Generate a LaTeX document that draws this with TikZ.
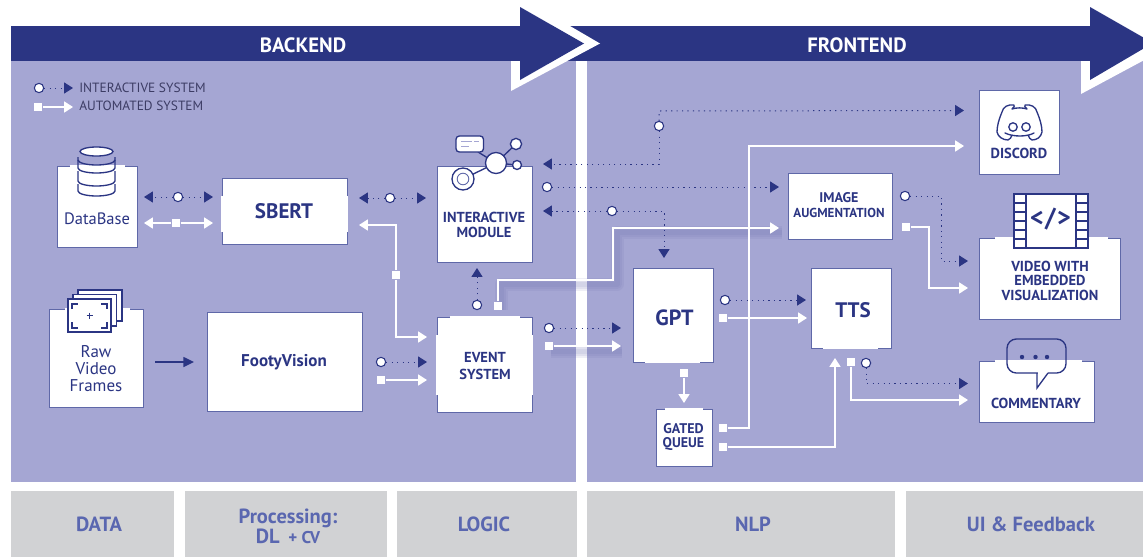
\documentclass[tikz,border=0pt]{standalone}
\usepackage{fontspec}
\setmainfont{PT Sans}
\usetikzlibrary{arrows.meta}
\definecolor{panel}{HTML}{A5A6D3}
\definecolor{navy}{HTML}{2B3583}
\definecolor{edge}{HTML}{5F68A8}
\definecolor{graybar}{HTML}{D1D2D4}
\definecolor{graytext}{HTML}{5A67B0}
\definecolor{legendtext}{HTML}{3C3C64}
\definecolor{shadowc}{HTML}{6A6CAE}
% font size in reference pixels; second argument is the line distance in pixels
\newcommand\pxs[2]{\fontsize{\dimexpr#1pt*3/4\relax}{\dimexpr#2pt*3/4\relax}\selectfont}
% box: name, x0, y0, x1, y1
\newcommand\bx[5]{\pgfmathsetmacro\wv{(#4-#2)*0.75}\pgfmathsetmacro\hv{(#5-#3)*0.75}%
  \node[boxnode,minimum width=\wv pt,minimum height=\hv pt] (#1) at ({(#2+#4)/2},{(#3+#5)/2}) {};}
\newcommand\gbar[3]{\pgfmathsetmacro\wv{(#3-#2)*0.75}%
  \node[barnode,minimum width=\wv pt] (#1) at ({(#2+#3)/2},524) {};}
\tikzset{
  x=0.75pt,y=-0.75pt,
  boxnode/.style={draw=edge,fill=white,line width=0.75pt,inner sep=0pt},
  lbl/.style={inner sep=0pt,align=center,text=navy},
  barlbl/.style={inner sep=0pt,align=center,text=graytext,font={\bfseries\pxs{20.5}{18}}},
  barnode/.style={fill=graybar,minimum height=49.5pt,inner sep=0pt},
  circ/.style={circle,draw=navy,fill=white,line width=0.8pt,minimum size=7pt,inner sep=0pt},
  sqr/.style={rectangle,fill=white,minimum size=6.4pt,inner sep=0pt},
  dotted line/.style={draw=navy,line width=0.75pt,dash pattern=on 0.9pt off 3.2pt},
  dotarrow/.style={dotted line,-{Triangle[length=6.6pt,width=8.2pt,fill=navy]}},
  whitearrow/.style={draw=white,line width=1.1pt,-{Triangle[length=6.6pt,width=8.2pt,fill=white]}},
  icon/.style={draw=navy,line width=1pt},
  gap/.style={draw=white,line width=1pt},
}
\begin{document}
\begin{tikzpicture}
\useasboundingbox (0,0) rectangle (1143,557);
\clip (0,0) rectangle (1143,557);
% panels
\fill[panel] (11,60) rectangle (576,482);
\fill[panel] (587,60) rectangle (1143,482);
% gray category bars
\gbar{barData}{11}{174}
\gbar{barProc}{185}{387}
\gbar{barLogic}{397}{577}
\gbar{barNlp}{587}{895}
\gbar{barUi}{906}{1143}
\node[barlbl] (lblData) at (99,524) {DATA};
\node[barlbl] (lblProc) at (288,526) {Processing:\\DL\, \raisebox{0pt}{\pxs{17}{18}+ CV}};
\node[barlbl] (lblLogic) at (484,524) {LOGIC};
\node[barlbl] (lblNlp) at (753,524) {NLP};
\node[barlbl] (lblUi) at (1031,524) {UI \& Feedback};
% header band and arrow heads
\fill[navy] (11,26) rectangle (1090,61);
\fill[white] (511,61) -- (511,91) -- (600,43.5) -- (570,26) -- (553,26) -- (553,61) -- cycle;
\fill[navy] (520,7) -- (584,43.5) -- (520,80) -- cycle;
\fill[white] (1081,61) -- (1081,94) -- (1163,50) -- (1143,40) -- (1090,61) -- cycle;
\fill[navy] (1090,7) -- (1153,43) -- (1090,80) -- cycle;
\node[lbl,text=white,font={\bfseries\pxs{20.7}{22}}] (backend) at (303,45) {BACKEND};
\node[lbl,text=white,font={\bfseries\pxs{20.7}{22}}] (frontend) at (857,45) {FRONTEND};
% soft shadows under some automated links
\foreach \w in {13,9,5}{
  \draw[shadowc,opacity=0.11,line width=\w*0.75pt,line join=round]
    (501,310) -- (501,284) -- (617,284) -- (617,232) -- (782,232);
  \draw[shadowc,opacity=0.11,line width=\w*0.75pt] (551,351) -- (622,351);
}
% boxes
\bx{db}{57}{166}{137}{247}
\bx{sbert}{222}{178}{347}{244}
\bx{raw}{49}{309}{143}{407}
\bx{footy}{207}{312}{362}{411}
\bx{inter}{437}{166}{532}{262}
\bx{event}{437}{317}{532}{412}
\bx{imgaug}{788}{173}{892}{239}
\bx{discord}{979}{90}{1059}{174}
\bx{video}{979}{238}{1120}{319}
\bx{gpt}{633}{268}{713}{362}
\bx{tts}{811}{268}{891}{348}
\bx{gated}{656}{409}{712}{466}
\bx{comment}{979}{361}{1094}{422}
% white strips that interrupt the box outlines
\draw[gap] (70,166) -- (125,166);
\draw[gap] (65,309) -- (130,309);
\draw[gap] (450,317) -- (520,317);
\draw[gap] (222,196) -- (222,232); \draw[gap] (347,196) -- (347,232);
\draw[gap] (437,335) -- (437,395); \draw[gap] (532,335) -- (532,395);
\draw[gap] (645,362) -- (700,362);
\draw[gap] (823,348) -- (878,348);
\draw[gap] (665,409) -- (703,409);
\draw[gap] (995,238) -- (1108,238);
\draw[gap] (995,361) -- (1082,361);
% box labels
\node[lbl,font={\pxs{16.5}{17}}] (dbLbl) at (97,219) {DataBase};
\node[lbl,font={\pxs{17}{17}}] (rawLbl) at (96,369) {Raw\\Video\\Frames};
\node[lbl,font={\bfseries\pxs{21}{22}}] (sbertLbl) at (284,211) {SBERT};
\node[lbl,font={\bfseries\pxs{17}{18}}] (footyLbl) at (284,362) {FootyVision};
\node[lbl,font={\bfseries\pxs{14.5}{15}}] (interLbl) at (484,225) {INTERACTIVE\\MODULE};
\node[lbl,font={\bfseries\pxs{14.5}{17}}] (eventLbl) at (485,366) {EVENT\\SYSTEM};
\node[lbl,font={\bfseries\pxs{13}{15}}] (augLbl) at (839,205.5) {\pxs{14}{15}IMAGE\\AUGMENTATION};
\node[lbl,font={\bfseries\pxs{14.5}{15}}] (discLbl) at (1019,153) {DISCORD};
\node[lbl,font={\bfseries\pxs{14.5}{14.5}}] (videoLbl) at (1050,280.5) {VIDEO WITH\\EMBEDDED\\VISUALIZATION};
\node[lbl,font={\bfseries\pxs{22}{24}}] (gptLbl) at (674.5,318) {GPT};
\node[lbl,font={\bfseries\pxs{21}{24}}] (ttsLbl) at (853,310) {TTS};
\node[lbl,font={\bfseries\pxs{14}{14}}] (gatedLbl) at (683.5,437) {GATED\\QUEUE};
\node[lbl,font={\bfseries\pxs{14.5}{15}}] (commLbl) at (1036,403) {COMMENTARY};
% database icon
\draw[icon] (78,160) -- (78,168) arc[start angle=180,end angle=360,x radius=18.5,y radius=-5] -- (115,160);
\draw[icon] (78,171) -- (78,181) arc[start angle=180,end angle=360,x radius=18.5,y radius=-5] -- (115,171);
\draw[icon] (78,184) -- (78,191) arc[start angle=180,end angle=360,x radius=18.5,y radius=-5] -- (115,184);
\draw[icon] (78,157) -- (78,160) arc[start angle=180,end angle=360,x radius=18.5,y radius=-5] -- (115,157);
\draw[icon,fill=white] (96.5,151.5) ellipse[x radius=16.5,y radius=4.5];
% frames icon
\draw[icon,fill=white] (78,290) rectangle (122,321);
\draw[icon,fill=white] (73,294.5) rectangle (116.5,326);
\draw[icon,fill=white] (68,299) rectangle (111,332);
\draw[icon,line width=0.9pt] (72,309) -- (72,304) -- (78,304)
  (101,304) -- (107,304) -- (107,309)
  (107,322) -- (107,328) -- (101,328)
  (78,328) -- (72,328) -- (72,322)
  (86.5,315.5) -- (92.5,315.5) (89.5,312.5) -- (89.5,318.5);
% network icon
\draw[icon] (478,152) -- (496,163) -- (516,144) (496,163) -- (517,165) (496,163) -- (463,179);
\draw[icon,fill=white,rounded corners=2.5pt] (456,136) rectangle (483.5,152);
\draw[panel,line width=1.1pt] (461,141.5) -- (472,141.5) (474,141.5) -- (479,141.5) (461,146.5) -- (469,146.5);
\draw[icon,fill=white] (496,163) circle[radius=10.5];
\draw[icon,fill=white] (516,144) circle[radius=5.6];
\draw[icon,fill=white] (517,165) circle[radius=4.5];
\draw[icon,fill=white] (463,179) circle[radius=11];
\draw[edge,line width=0.7pt,fill=white] (463,179) circle[radius=5.8];
% discord icon
\draw[icon,line cap=round,line join=round]
  (1014,105) .. controls (1008,104) and (1003,107) .. (1002,112)
  .. controls (999,119) and (997,126) .. (997,132)
  .. controls (998,137) and (1003,140) .. (1008,140)
  .. controls (1010,140) and (1011,137) .. (1012,135)
  (1005,133) .. controls (1013,137) and (1027,137) .. (1034,133)
  (1028,135) .. controls (1029,137) and (1030,140) .. (1032,140)
  .. controls (1037,140) and (1041,137) .. (1042,132)
  .. controls (1042,126) and (1040,119) .. (1037,112)
  .. controls (1036,107) and (1031,104) .. (1025,105)
  .. controls (1024,106) and (1025,107) .. (1027,109)
  .. controls (1022,107.5) and (1017,107.5) .. (1012,109)
  .. controls (1014,107) and (1015,106) .. (1014,105);
\draw[icon] (1013,127) circle[radius=4.2];
\draw[icon] (1026,127) circle[radius=4.2];
% film icon
\draw[icon,line width=1.2pt,fill=white] (1014,194) rectangle (1088,248);
\draw[icon,line width=1.2pt] (1026,194) -- (1026,248) (1076,194) -- (1076,248);
\foreach \yy in {203,212,221,230,239}{
  \draw[icon,line width=1.2pt] (1014,\yy) -- (1026,\yy) (1076,\yy) -- (1088,\yy);
}
\node[lbl,font={\bfseries\pxs{26}{28}}] (code) at (1050.5,219.5) {\char`\<\kern1pt/\kern1pt\char`\>};
% speech bubble icon
\draw[icon,line join=round,rounded corners=7pt]
  (1007,339) rectangle (1066,373);
\draw[white,line width=1.4pt] (1037.6,373) -- (1047.5,373);
\draw[icon,line join=miter] (1037,373) -- (1037,388) -- (1048,373);
\fill[navy] (1022,357) circle[radius=2.2] (1035.5,357) circle[radius=2.2] (1047,357) circle[radius=2.2];
% legend
\node[circ] (legC) at (39,88) {};
\coordinate (legCt) at (73,88);
\node[sqr] (legS) at (38,107) {};
\coordinate (legSt) at (73,107);
\node[inner sep=0pt,anchor=west,text=legendtext,font={\pxs{13.4}{14}}] (legT1) at (79,88) {INTERACTIVE SYSTEM};
\node[inner sep=0pt,anchor=west,text=legendtext,font={\pxs{13.4}{14}}] (legT2) at (79,105.5) {AUTOMATED SYSTEM};
% link end markers
\node[circ] (c1) at (178,197) {};
\node[sqr] (s1) at (176,223) {};
\node[circ] (c2) at (390,198) {};
\node[sqr] (s2) at (396,275) {};
\node[circ] (c3) at (381,362) {};
\node[sqr] (s3) at (381,380) {};
\node[circ] (c4) at (477,305) {};
\node[sqr] (s4) at (498,306) {};
\node[circ] (c5) at (549,328) {};
\node[sqr] (s5) at (549,346) {};
\node[circ] (c6) at (659,126) {};
\node[circ] (c7) at (547,187) {};
\node[circ] (c8) at (612,211) {};
\node[sqr] (s6) at (723,428) {};
\node[sqr] (s7) at (723,447) {};
\node[circ] (c9) at (725,300) {};
\node[sqr] (s8) at (723,318) {};
\node[sqr] (s9) at (684,373) {};
\node[circ] (c10) at (905,196) {};
\node[sqr] (s10) at (906,227) {};
\node[sqr] (s11) at (851,362) {};
\node[circ] (c11) at (866,363) {};
% free ends
\coordinate (t1l) at (144,197); \coordinate (t1r) at (213,197);
\coordinate (w1l) at (144,223); \coordinate (w1r) at (213,223);
\coordinate (t2l) at (359,198); \coordinate (t2r) at (426,198);
\coordinate (w2a) at (396,225); \coordinate (w2l) at (359,225);
\coordinate (w2b) at (396,337); \coordinate (w2r) at (427,337);
\coordinate (rawS) at (155,362); \coordinate (rawE) at (194,362);
\coordinate (t3) at (427,362); \coordinate (w3) at (427,380);
\coordinate (t4) at (477,268);
\coordinate (b4a) at (498,280); \coordinate (b4b) at (613,280); \coordinate (b4c) at (613,228); \coordinate (w4) at (779,228);
\coordinate (t5) at (621,328); \coordinate (w5) at (621,346);
\coordinate (t6l) at (543,164); \coordinate (b6a) at (659,164); \coordinate (b6b) at (659,111); \coordinate (t6r) at (964,110.5);
\coordinate (t7) at (779,187);
\coordinate (t8l) at (543,211); \coordinate (b8) at (664,211); \coordinate (t8d) at (664,258);
\coordinate (b9a) at (749,428); \coordinate (b9b) at (749,146); \coordinate (w9) at (964,146);
\coordinate (b10) at (835,447); \coordinate (w10) at (835,358);
\coordinate (t11) at (806,300); \coordinate (w11) at (807,318);
\coordinate (w12) at (684,403);
\coordinate (b13a) at (941,196); \coordinate (b13b) at (941,261); \coordinate (t13) at (968,261);
\coordinate (b14a) at (929,227); \coordinate (b14b) at (929,288); \coordinate (w14) at (968,288);
\coordinate (b15) at (851,400); \coordinate (w15) at (968,400);
\coordinate (b16) at (866,383.5); \coordinate (t16) at (968,383.5);
% connectors: interactive (dotted)
\draw[dotarrow] (legC) -- (legCt);
\draw[dotarrow] (c1) -- (t1l); \draw[dotarrow] (c1) -- (t1r);
\draw[dotarrow] (c2) -- (t2l); \draw[dotarrow] (c2) -- (t2r);
\draw[dotarrow] (c3) -- (t3);
\draw[dotarrow] (c4) -- (t4);
\draw[dotarrow] (c5) -- (t5);
\draw[dotarrow] (c6) -- (b6a) -- (t6l);
\draw[dotarrow] (c6) -- (b6b) -- (t6r);
\draw[dotarrow] (c7) -- (t7);
\draw[dotarrow] (c8) -- (t8l);
\draw[dotarrow] (c8) -- (b8) -- (t8d);
\draw[dotarrow] (c9) -- (t11);
\draw[dotarrow] (c10) -- (b13a) -- (b13b) -- (t13);
\draw[dotarrow] (c11) -- (b16) -- (t16);
% connectors: automated (white)
\draw[whitearrow] (legS) -- (legSt);
\draw[whitearrow] (s1) -- (w1l); \draw[whitearrow] (s1) -- (w1r);
\draw[whitearrow] (s2) -- (w2a) -- (w2l);
\draw[whitearrow] (s2) -- (w2b) -- (w2r);
\draw[whitearrow] (s3) -- (w3);
\draw[whitearrow] (s4) -- (b4a) -- (b4b) -- (b4c) -- (w4);
\draw[whitearrow] (s5) -- (w5);
\draw[whitearrow] (s6) -- (b9a) -- (b9b) -- (w9);
\draw[whitearrow] (s7) -- (b10) -- (w10);
\draw[whitearrow] (s8) -- (w11);
\draw[whitearrow] (s9) -- (w12);
\draw[whitearrow] (s10) -- (b14a) -- (b14b) -- (w14);
\draw[whitearrow] (s11) -- (b15) -- (w15);
\draw[navy,line width=1.1pt,-{Triangle[length=8pt,width=7.5pt]}] (rawS) -- (rawE);
\end{tikzpicture}
\end{document}
